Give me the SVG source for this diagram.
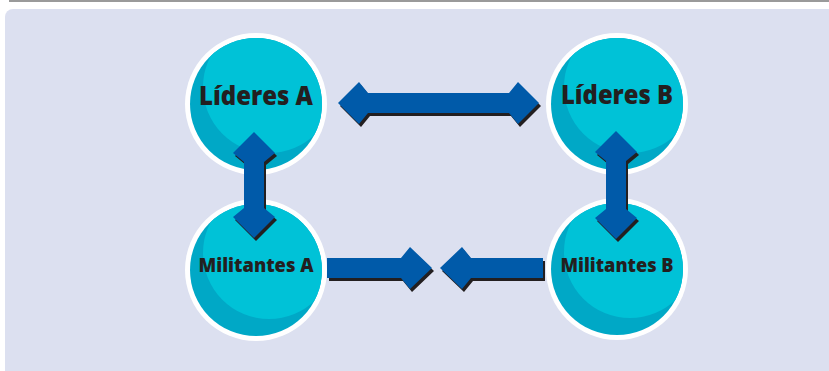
<svg xmlns="http://www.w3.org/2000/svg" width="829" height="371" viewBox="0 0 829 371">
<defs>
<style>
.ring{fill:#ffffff}
.dark{fill:#00a8c6}
.light{fill:#00c2d7}
.lbl{font-family:"Open Sans","Liberation Sans",sans-serif;font-weight:800;fill:#231f20;text-anchor:middle}
.big{font-size:26px}
.small{font-size:19px}
.shadow{fill:#231f20}
.arrow{fill:#005aa9}
</style>
<clipPath id="cA1"><circle cx="256" cy="104" r="66"/></clipPath>
<clipPath id="cB1"><circle cx="617" cy="104" r="66"/></clipPath>
<clipPath id="cA2"><circle cx="256" cy="270" r="66"/></clipPath>
<clipPath id="cB2"><circle cx="617" cy="269" r="66"/></clipPath>
</defs>
<rect x="0" y="0" width="829" height="371" fill="#ffffff"/>
<rect x="9" y="0" width="820" height="2" fill="#9a9a9a"/>
<rect x="5" y="9" width="840" height="380" rx="8" fill="#dce0f0"/>

<g id="lideres-a">
<circle class="ring" cx="256" cy="104" r="71"/>
<circle class="dark" cx="256" cy="104" r="66"/>
<circle class="light" cx="269" cy="87" r="66" clip-path="url(#cA1)"/>
<text class="lbl big" x="256" y="105" textLength="114" lengthAdjust="spacingAndGlyphs">Líderes A</text>
</g>
<g id="lideres-b">
<circle class="ring" cx="617" cy="104" r="71"/>
<circle class="dark" cx="617" cy="104" r="66"/>
<circle class="light" cx="630" cy="87" r="66" clip-path="url(#cB1)"/>
<text class="lbl big" x="617" y="104" textLength="112" lengthAdjust="spacingAndGlyphs">Líderes B</text>
</g>
<g id="militantes-a">
<circle class="ring" cx="256" cy="270" r="71"/>
<circle class="dark" cx="256" cy="270" r="66"/>
<circle class="light" cx="269" cy="253" r="66" clip-path="url(#cA2)"/>
<text class="lbl small" x="256" y="272" textLength="115" lengthAdjust="spacingAndGlyphs">Militantes A</text>
</g>
<g id="militantes-b">
<circle class="ring" cx="617" cy="269" r="71"/>
<circle class="dark" cx="617" cy="269" r="66"/>
<circle class="light" cx="630" cy="252" r="66" clip-path="url(#cB2)"/>
<text class="lbl small" x="617" y="272" textLength="113" lengthAdjust="spacingAndGlyphs">Militantes B</text>
</g>

<g id="connectors">
<g transform="translate(2,3)">
<path class="shadow" d="M338,103 L359,82 L368,93 L509,93 L518,82 L539,103 L518,124 L509,113 L368,113 L359,124 Z"/>
<path class="shadow" d="M254,132 L275,153 L264,162 L264,208 L275,217 L254,238 L233,217 L244,208 L244,162 L233,153 Z"/>
<path class="shadow" d="M616,131 L637,152 L626,161 L626,209 L637,218 L616,239 L595,218 L606,209 L606,161 L595,152 Z"/>
<path class="shadow" d="M327,258 L401,258 L410,247 L432,268 L410,289 L401,278 L327,278 Z"/>
<path class="shadow" d="M543,258 L471,258 L462,247 L440,268 L462,289 L471,278 L543,278 Z"/>
</g>
<path class="arrow" d="M338,103 L359,82 L368,93 L509,93 L518,82 L539,103 L518,124 L509,113 L368,113 L359,124 Z"/>
<path class="arrow" d="M254,132 L275,153 L264,162 L264,208 L275,217 L254,238 L233,217 L244,208 L244,162 L233,153 Z"/>
<path class="arrow" d="M616,131 L637,152 L626,161 L626,209 L637,218 L616,239 L595,218 L606,209 L606,161 L595,152 Z"/>
<path class="arrow" d="M327,258 L401,258 L410,247 L432,268 L410,289 L401,278 L327,278 Z"/>
<path class="arrow" d="M543,258 L471,258 L462,247 L440,268 L462,289 L471,278 L543,278 Z"/>
</g>
</svg>
